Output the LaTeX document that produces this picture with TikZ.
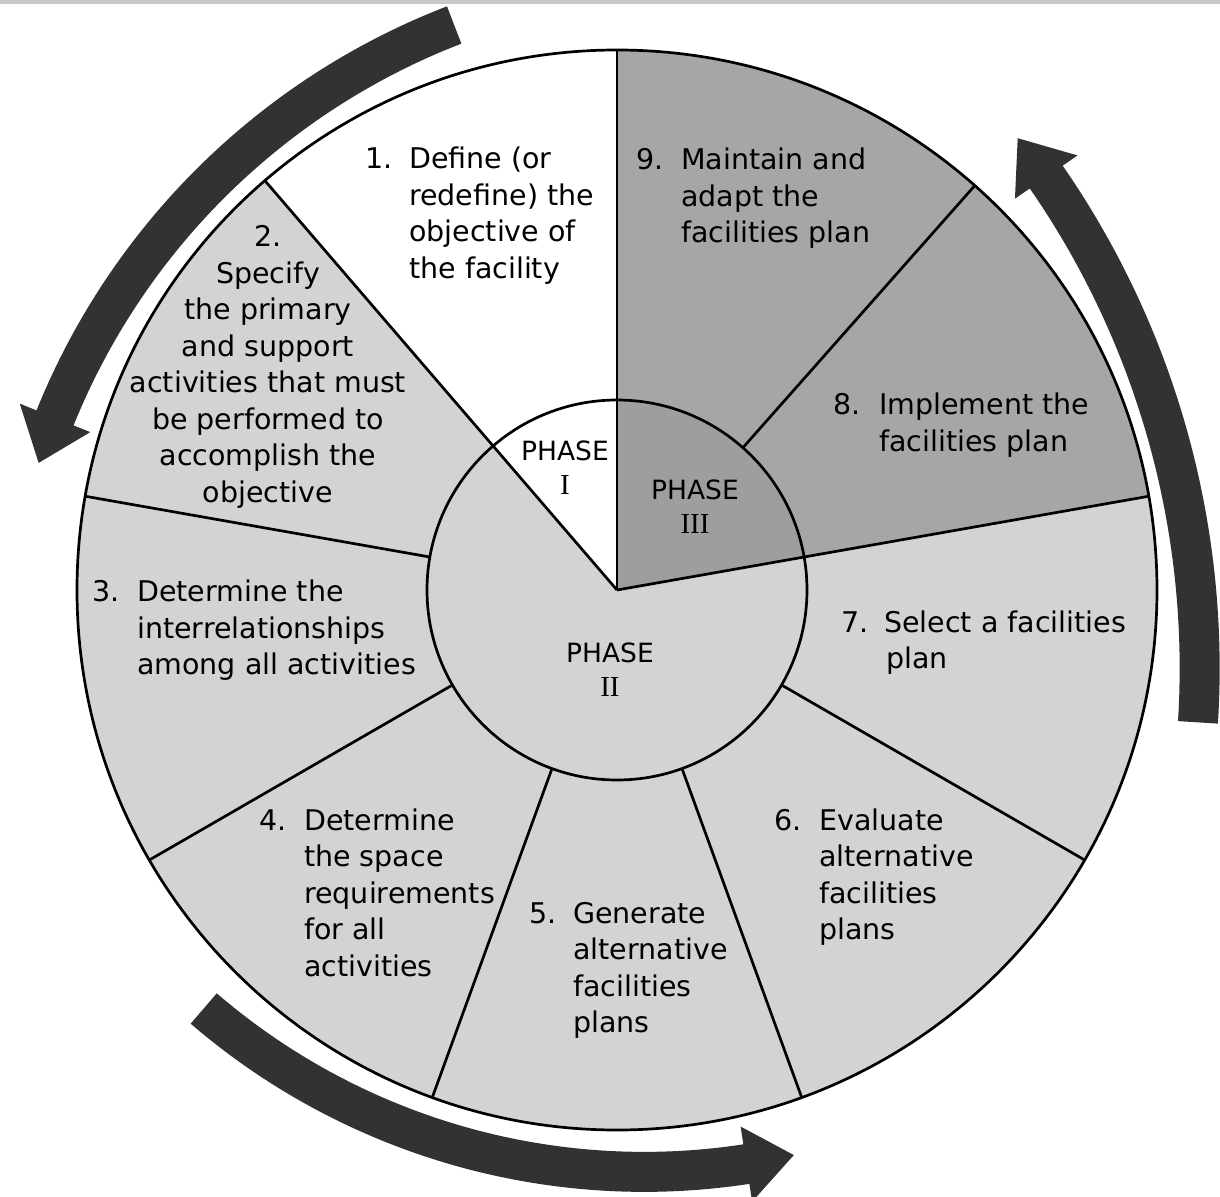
\documentclass[tikz,border=0pt]{standalone}
\usepackage{fontspec}
\setmainfont{DejaVu Sans}
\newfontfamily\romfont{Liberation Serif}
\usepackage{array}
\definecolor{lightg}{RGB}{211,211,211}
\definecolor{darkg}{RGB}{166,166,166}
\definecolor{phthree}{RGB}{158,158,158}
\definecolor{arrowc}{RGB}{50,50,50}
\definecolor{topbar}{RGB}{200,200,200}
% #1 cx, #2 cy, #3 R, #4 tail angle, #5 head-back angle, #6 tip angle
\newcommand{\flatarrow}[6]{%
  \begin{scope}[shift={(#1,#2)}]
    \pgfmathsetmacro\aro{#3+20}\pgfmathsetmacro\ari{#3-20}%
    \pgfmathsetmacro\hro{#3+38}\pgfmathsetmacro\hri{#3-38}%
    \fill[arrowc] (#4:\aro) arc[start angle=#4, end angle=#5, radius=\aro]
      -- (#5:\hro) -- (#6:#3) -- (#5:\hri) -- (#5:\ari)
      arc[start angle=#5, end angle=#4, radius=\ari] -- cycle;
  \end{scope}}
\begin{document}
\begin{tikzpicture}[x=1pt,y=1pt,line join=round,
  sep/.style={draw=black, line width=2.7pt},
  lbl/.style={inner sep=0pt, font=\fontsize{28.5}{36.5}\selectfont},
  phlbl/.style={inner sep=0pt, font=\fontsize{26.5}{34}\selectfont},
  rom/.style={font=\romfont\fontsize{29}{34}\selectfont}]
\useasboundingbox (-617,-606) rectangle (603,590);
\fill[white] (-617,-606) rectangle (603,590);
\fill[topbar] (-617,590) rectangle (603,586);
% sector fills
\fill[lightg] (0,0) circle[radius=540];
\fill[white] (0,0) -- (90:540) arc[start angle=90,end angle=130.7,radius=540] -- cycle;
\fill[darkg] (0,0) -- (10:540) arc[start angle=10,end angle=90,radius=540] -- cycle;
\fill[lightg] (0,0) circle[radius=190];
\fill[white] (0,0) -- (90:190) arc[start angle=90,end angle=130.7,radius=190] -- cycle;
\fill[phthree] (0,0) -- (10:190) arc[start angle=10,end angle=90,radius=190] -- cycle;
% lines
\draw[sep] (0,0) circle[radius=540];
\draw[sep] (0,0) circle[radius=190];
\foreach \a in {10,90,130.7} \draw[sep] (0,0) -- (\a:540);
\foreach \a in {48.5,170,210,250,290,330} \draw[sep] (\a:190) -- (\a:540);
% arrows
\flatarrow{90.5}{-91.5}{703.7}{111.1}{158.0}{161.9}
\flatarrow{-280.1}{-78.2}{862.8}{-3.6}{34.7}{37.9}
\flatarrow{27.2}{93.6}{675.5}{229.3}{278.7}{282.8}
% labels
\node[lbl, anchor=base west] (s1) at (-252,421)
  {\begin{tabular}[t]{@{}w{l}{44pt}@{}l@{}}1. & Define (or\\ & redefine) the\\ & objective of\\ & the facility\end{tabular}};
\node[lbl, anchor=base] (s2) at (-349,343)
  {\begin{tabular}[t]{@{}c@{}}2.\\Specify\\the primary\\and support\\activities that must\\be performed to\\accomplish the\\objective\end{tabular}};
\node[lbl, anchor=base west] (s3) at (-525,-12)
  {\begin{tabular}[t]{@{}w{l}{45pt}@{}l@{}}3. & Determine the\\ & interrelationships\\ & among all activities\end{tabular}};
\node[lbl, anchor=base west] (s4) at (-358,-240)
  {\begin{tabular}[t]{@{}w{l}{45pt}@{}l@{}}4. & Determine\\ & the space\\ & requirements\\ & for all\\ & activities\end{tabular}};
\node[lbl, anchor=base west] (s5) at (-88,-333)
  {\begin{tabular}[t]{@{}w{l}{44pt}@{}l@{}}5. & Generate\\ & alternative\\ & facilities\\ & plans\end{tabular}};
\node[lbl, anchor=base west] (s6) at (157,-240)
  {\begin{tabular}[t]{@{}w{l}{45pt}@{}l@{}}6. & Evaluate\\ & alternative\\ & facilities\\ & plans\end{tabular}};
\node[lbl, anchor=base west] (s7) at (224,-42)
  {\begin{tabular}[t]{@{}w{l}{43pt}@{}l@{}}7. & Select a facilities\\ & \hspace*{2pt}plan\end{tabular}};
\node[lbl, anchor=base west] (s8) at (216,175)
  {\begin{tabular}[t]{@{}w{l}{46pt}@{}l@{}}8. & Implement the\\ & facilities plan\end{tabular}};
\node[lbl, anchor=base west] (s9) at (19,420)
  {\begin{tabular}[t]{@{}w{l}{45pt}@{}l@{}}9. & Maintain and\\ & adapt the\\ & facilities plan\end{tabular}};
\node[phlbl, anchor=base] (p1) at (-52,129)
  {\begin{tabular}[t]{@{}c@{}}PHASE\\{\romfont\fontsize{29}{34}\selectfont I}\end{tabular}};
\node[phlbl, anchor=base] (p3) at (78,90)
  {\begin{tabular}[t]{@{}c@{}}PHASE\\{\romfont\fontsize{29}{34}\selectfont III}\end{tabular}};
\node[phlbl, anchor=base] (p2) at (-7,-72)
  {\begin{tabular}[t]{@{}c@{}}PHASE\\{\romfont\fontsize{29}{34}\selectfont II}\end{tabular}};
\end{tikzpicture}
\end{document}
